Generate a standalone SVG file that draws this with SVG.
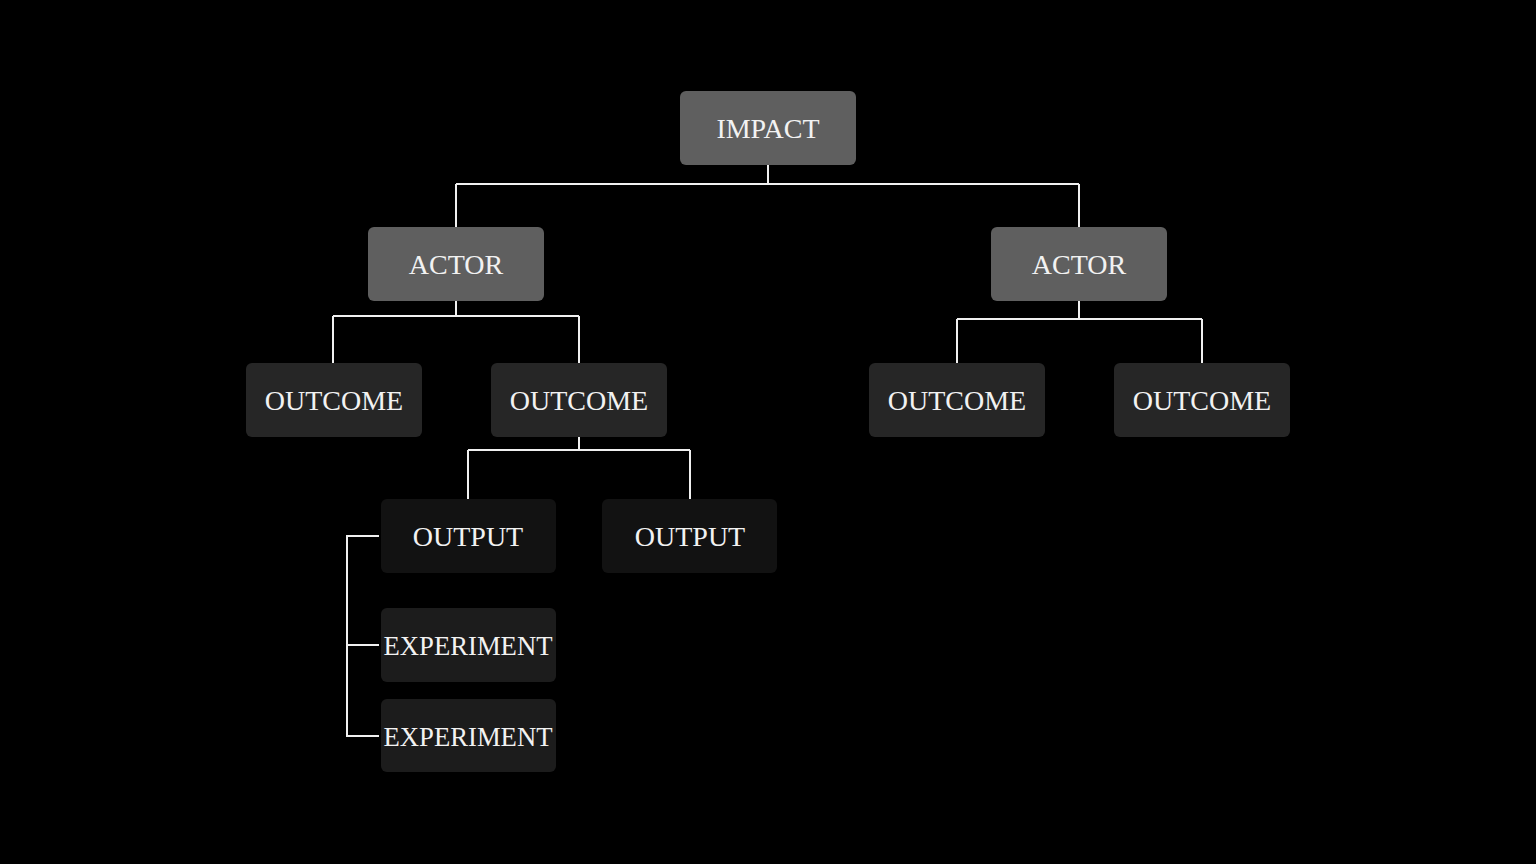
<svg xmlns="http://www.w3.org/2000/svg" width="1536" height="864" viewBox="0 0 1536 864">
<style>
.b{stroke:none}
.l1{fill:#5f5f5f}
.l2{fill:#262626}
.l3{fill:#121212}
.l4{fill:#1c1c1c}
text{font-family:"Liberation Serif","Times New Roman",serif;font-size:28px;fill:#f2f2f2;text-anchor:middle}
.c{fill:none;stroke:#f0f0f0;stroke-width:2}
</style>
<rect width="1536" height="864" fill="#000"/>
<g id="connectors">
<path class="c" d="M768 165V184M456 184H1079M456 184V227M1079 184V227"/>
<path class="c" d="M456 301V316M333 316H579M333 316V363M579 316V363"/>
<path class="c" d="M1079 301V319M957 319H1202M957 319V363M1202 319V363"/>
<path class="c" d="M579 437V450M468 450H690M468 450V499M690 450V499"/>
<path class="c" d="M379 536H347V736H379M347 645H379"/>
</g>
<g id="impact"><rect class="l1" x="680" y="91" width="176" height="74" rx="6"/><text x="768" y="138">IMPACT</text></g>
<g id="actor1"><rect class="l1" x="368" y="227" width="176" height="74" rx="6"/><text x="456" y="274">ACTOR</text></g>
<g id="actor2"><rect class="l1" x="991" y="227" width="176" height="74" rx="6"/><text x="1079" y="274">ACTOR</text></g>
<g id="outcome1"><rect class="l2" x="246" y="363" width="176" height="74" rx="6"/><text x="334" y="410">OUTCOME</text></g>
<g id="outcome2"><rect class="l2" x="491" y="363" width="176" height="74" rx="6"/><text x="579" y="410">OUTCOME</text></g>
<g id="outcome3"><rect class="l2" x="869" y="363" width="176" height="74" rx="6"/><text x="957" y="410">OUTCOME</text></g>
<g id="outcome4"><rect class="l2" x="1114" y="363" width="176" height="74" rx="6"/><text x="1202" y="410">OUTCOME</text></g>
<g id="output1"><rect class="l3" x="381" y="499" width="175" height="74" rx="6"/><text x="468" y="546">OUTPUT</text></g>
<g id="output2"><rect class="l3" x="602" y="499" width="175" height="74" rx="6"/><text x="690" y="546">OUTPUT</text></g>
<g id="experiment1"><rect class="l4" x="381" y="608" width="175" height="74" rx="6"/><text x="468" y="655" textLength="169" lengthAdjust="spacingAndGlyphs">EXPERIMENT</text></g>
<g id="experiment2"><rect class="l4" x="381" y="699" width="175" height="73" rx="6"/><text x="468" y="746" textLength="169" lengthAdjust="spacingAndGlyphs">EXPERIMENT</text></g>
</svg>
